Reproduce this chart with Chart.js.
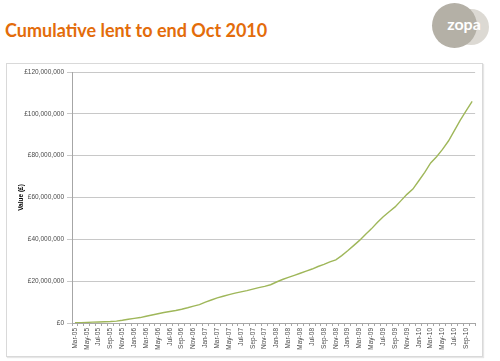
<!DOCTYPE html>
<html>
<head>
<meta charset="utf-8">
<script src="https://cdn.jsdelivr.net/npm/chart.js@4"></script>
<style>
  html,body{margin:0;padding:0;background:#fff;width:500px;height:361px;overflow:hidden;}
  #title{position:absolute;left:5px;top:19px;font-family:Lato,"Open Sans",sans-serif;font-weight:bold;font-size:18px;color:#e36c0a;white-space:nowrap;}
  #logo2{position:absolute;left:453px;top:9px;width:36px;height:36px;border-radius:50%;background:#dcd9d3;}
  #logo{position:absolute;left:432px;top:3px;width:45px;height:45px;border-radius:50%;background:#b4b0a6;}
  #logotext{position:absolute;left:437px;top:14px;width:54px;text-align:center;font-family:Lato,sans-serif;font-weight:bold;font-size:16px;color:#fff;}
  #box{position:absolute;left:6px;top:63px;width:475px;height:292px;border:1px solid #d9d9d9;box-shadow:1px 1px 1px #e6e6e6;}
  #box canvas{position:absolute;left:0;top:0;}
</style>
</head>
<body>
<div id="title">Cumulative lent to end Oct 2010</div>
<div id="logo2"></div>
<div id="logo"></div>
<div id="logotext">zopa</div>
<div id="box"><canvas id="c" width="475" height="292"></canvas></div>
<script>
const months = [
  'Mar-05','Apr-05','May-05','Jun-05','Jul-05','Aug-05','Sep-05','Oct-05','Nov-05','Dec-05',
  'Jan-06','Feb-06','Mar-06','Apr-06','May-06','Jun-06','Jul-06','Aug-06','Sep-06','Oct-06','Nov-06','Dec-06',
  'Jan-07','Feb-07','Mar-07','Apr-07','May-07','Jun-07','Jul-07','Aug-07','Sep-07','Oct-07','Nov-07','Dec-07',
  'Jan-08','Feb-08','Mar-08','Apr-08','May-08','Jun-08','Jul-08','Aug-08','Sep-08','Oct-08','Nov-08','Dec-08',
  'Jan-09','Feb-09','Mar-09','Apr-09','May-09','Jun-09','Jul-09','Aug-09','Sep-09','Oct-09','Nov-09','Dec-09',
  'Jan-10','Feb-10','Mar-10','Apr-10','May-10','Jun-10','Jul-10','Aug-10','Sep-10','Oct-10'
];
// cumulative lent, £ millions
const cumulativeLentM = [
  0.1,0.2,0.3,0.4,0.5,0.6,0.7,0.9,1.3,1.8,
  2.2,2.6,3.2,3.8,4.4,5.0,5.5,6.0,6.6,7.3,8.1,8.8,
  10.0,11.0,12.0,12.8,13.6,14.3,14.9,15.5,16.2,16.9,17.5,18.3,
  19.6,20.8,21.8,22.8,23.8,24.8,25.8,27.0,28.0,29.2,30.2,32.2,
  34.5,37.0,39.5,42.3,45.0,48.0,50.8,53.2,55.5,58.5,61.5,64.0,
  68.0,72.0,76.5,79.5,83.0,87.0,92.0,97.0,101.5,106.0
];
const yTicks = [0,20000000,40000000,60000000,80000000,100000000,120000000];
const yAxisTitle = 'Value (£)';

const tickFont = {family:'"Liberation Sans", Arial, sans-serif', size:6.5};
new Chart(document.getElementById('c'), {
  type:'line',
  data:{
    labels: months,
    datasets:[{
      data: cumulativeLentM.map(v=>v*1000000),
      borderColor:'#9fb75a',
      borderWidth:1.4,
      pointRadius:0,
      tension:0,
      fill:false
    }]
  },
  options:{
    responsive:false,
    animation:false,
    layout:{padding:{left:10,top:8,right:6,bottom:0}},
    plugins:{legend:{display:false},tooltip:{enabled:false}},
    scales:{
      x:{
        offset:true,
        grid:{display:true,drawOnChartArea:false,offset:true,color:'#a6a6a6',tickLength:3},
        border:{color:'#a6a6a6'},
        ticks:{
          autoSkip:false,maxRotation:90,minRotation:90,color:'#4a4a4a',font:tickFont,padding:2,
          callback:function(v,i){return i%2===0?months[i]:'';}
        },
        afterFit:function(s){s.height=33;}
      },
      y:{
        min:0,max:120000000,
        afterBuildTicks:function(s){s.ticks=yTicks.map(v=>({value:v}));},
        grid:{color:'#c8c8c8',tickLength:5,lineWidth:1},
        border:{color:'#a6a6a6'},
        ticks:{color:'#4a4a4a',font:tickFont,padding:3,
          callback:function(v){return '£'+Number(v).toLocaleString('en-GB');}},
        title:{display:true,text:yAxisTitle,color:'#000',font:{family:'"Liberation Sans", Arial, sans-serif',size:6.5,weight:'bold'},padding:{top:0,bottom:4}},
        afterFit:function(s){s.width=55;}
      }
    }
  }
});
</script>
</body>
</html>
